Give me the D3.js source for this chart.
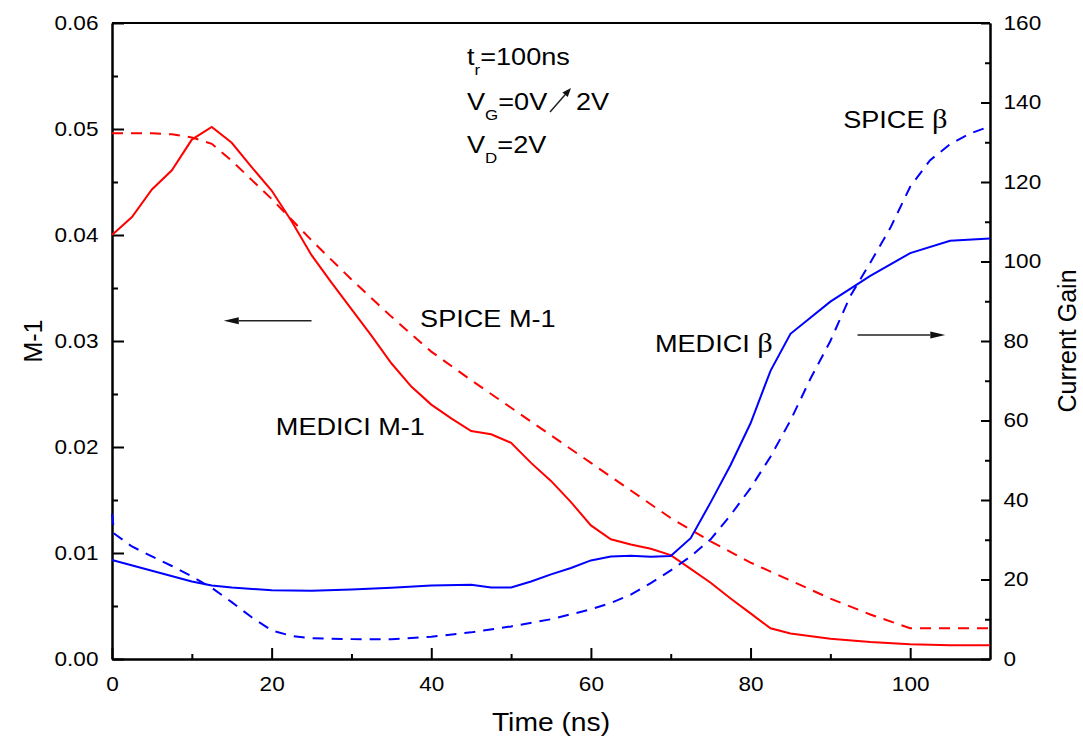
<!DOCTYPE html>
<html>
<head>
<meta charset="utf-8">
<script src="https://cdn.jsdelivr.net/npm/d3@7"></script>
<style>
  body { margin: 0; background: #fff; }
  text { font-family: "Liberation Sans", Arial, sans-serif; fill: #000; }
</style>
</head>
<body>
<svg width="1083" height="744"></svg>
<script>
// time axis (ns)
let xMajor = [0, 20, 40, 60, 80, 100];
let xMinor = [10, 30, 50, 70, 90];
let leftMajor = [0, 0.01, 0.02, 0.03, 0.04, 0.05, 0.06];
let leftMinor = [0.005, 0.015, 0.025, 0.035, 0.045, 0.055];
let rightMajor = [0, 20, 40, 60, 80, 100, 120, 140, 160];
let rightMinor = [10, 30, 50, 70, 90, 110, 130, 150];

// MEDICI M-1 (solid red, left axis)
let tMediciM = [0, 2.5, 5, 7.5, 10, 12.5, 15, 17.5, 20, 22.5, 25, 27.5, 30, 32.5, 35, 37.5, 40, 42.5, 45, 47.5,
  50, 52.5, 55, 57.5, 60, 62.5, 65, 67.5, 70, 72.5, 75, 77.5, 80, 82.5, 85, 90, 95, 100, 105, 110];
let mediciM = [0.0400, 0.0417, 0.0443, 0.0461, 0.0490, 0.0502, 0.0487, 0.0464, 0.0442, 0.0413, 0.0381, 0.0355,
  0.0330, 0.0305, 0.0279, 0.0257, 0.0240, 0.0227, 0.0215, 0.0212, 0.0204, 0.0185, 0.0168, 0.0148, 0.0126,
  0.0113, 0.0108, 0.0104, 0.0098, 0.0085, 0.0072, 0.0057, 0.0043, 0.0029, 0.0024, 0.0019, 0.0016, 0.0014,
  0.0013, 0.0013];

// SPICE M-1 (dashed red, left axis)
let tSpiceM = [0, 2.5, 5, 7.5, 10, 12.5, 15, 17.5, 20, 25, 30, 35, 40, 45, 50, 55, 60, 65, 70, 75, 80, 85, 90,
  95, 100, 105, 110];
let spiceM = [0.0496, 0.0496, 0.0496, 0.0495, 0.0492, 0.0486, 0.0470, 0.0452, 0.0434, 0.0395, 0.0358, 0.0323,
  0.0290, 0.0263, 0.0237, 0.0211, 0.0185, 0.0159, 0.0133, 0.0111, 0.0091, 0.0074, 0.0057, 0.0042, 0.0029,
  0.0029, 0.0029];

// MEDICI beta (solid blue, right axis)
let tMediciB = [0, 5, 10, 12.5, 15, 20, 25, 30, 35, 40, 45, 47.5, 50, 52.5, 55, 57.5, 60, 62.5, 65, 67.5, 70,
  72.5, 75, 77.5, 80, 82.5, 85, 90, 95, 100, 105, 110];
let mediciB = [24.9, 22.2, 19.5, 18.5, 18.0, 17.3, 17.2, 17.5, 17.9, 18.5, 18.7, 18.0, 18.0, 19.5, 21.3, 22.9,
  24.8, 25.8, 26.0, 25.7, 25.9, 30.4, 39.4, 48.8, 59.3, 72.5, 81.8, 89.9, 96.4, 102.1, 105.2, 105.8];

// SPICE beta (dashed blue, right axis)
let tSpiceB = [0, 0.3, 2.5, 5, 7.5, 10, 12.5, 15, 17.5, 20, 22.5, 25, 30, 35, 40, 45, 50, 55, 60, 62.5, 65,
  67.5, 70, 72.5, 75, 77.5, 80, 82.5, 85, 87.5, 90, 92.5, 95, 97.5, 100, 102.5, 105, 107.5, 110];
let spiceB = [36.5, 31.5, 28.3, 25.8, 23.4, 20.8, 17.9, 14.3, 10.5, 7.2, 5.8, 5.2, 5.0, 5.0, 5.6, 6.7, 8.2,
  10.0, 12.5, 14.1, 16.2, 19.1, 22.3, 25.8, 30.1, 36.2, 43.0, 50.9, 60.0, 70.5, 80.0, 91.3, 99.7, 108.4,
  118.8, 125.5, 129.5, 132.2, 134.0];

let svg = d3.select('svg');
let x = d3.scaleLinear().domain([0, 110]).range([112, 990]);
let yL = d3.scaleLinear().domain([0, 0.06]).range([659, 23]);
let yR = d3.scaleLinear().domain([0, 160]).range([659, 23]);
let stretch = 'scale(1.13,1)';

function styleAxis(g) {
  g.select('.domain').attr('stroke', '#000').attr('stroke-width', 2);
  g.selectAll('.tick line').attr('stroke', '#000').attr('stroke-width', 2);
  g.selectAll('.tick text').attr('font-size', 20).attr('font-family', '"Liberation Sans", Arial, sans-serif')
    .attr('transform', stretch);
}

// minor ticks first
svg.append('g').attr('transform', 'translate(0,659)')
  .call(d3.axisBottom(x).tickValues(xMinor).tickSize(-5).tickSizeOuter(0).tickFormat(() => ''))
  .call(styleAxis);
svg.append('g').attr('transform', 'translate(112,0)')
  .call(d3.axisLeft(yL).tickValues(leftMinor).tickSize(-6).tickSizeOuter(0).tickFormat(() => ''))
  .call(styleAxis);
svg.append('g').attr('transform', 'translate(990,0)')
  .call(d3.axisRight(yR).tickValues(rightMinor).tickSize(-5).tickSizeOuter(0).tickFormat(() => ''))
  .call(styleAxis);

svg.append('g').attr('transform', 'translate(0,659)')
  .call(d3.axisBottom(x).tickValues(xMajor).tickSize(-11).tickSizeOuter(0).tickPadding(18).tickFormat(d3.format('d')))
  .call(styleAxis);
svg.append('g').attr('transform', 'translate(112,0)')
  .call(d3.axisLeft(yL).tickValues(leftMajor).tickSize(-12).tickSizeOuter(0).tickPadding(12).tickFormat(d3.format('.2f')))
  .call(styleAxis);
svg.append('g').attr('transform', 'translate(990,0)')
  .call(d3.axisRight(yR).tickValues(rightMajor).tickSize(-9).tickSizeOuter(0).tickPadding(12).tickFormat(d3.format('d')))
  .call(styleAxis);

// top frame
svg.append('line').attr('x1', x(0)).attr('x2', x(110)).attr('y1', yL(0.06)).attr('y2', yL(0.06))
  .attr('stroke', '#000').attr('stroke-width', 2);

// curves
function drawLine(ts, vs, yScale, color, dashed) {
  let pts = ts.map((t, i) => [t, vs[i]]);
  let line = d3.line().x(d => x(d[0])).y(d => yScale(d[1]));
  svg.append('path').datum(pts).attr('d', line)
    .attr('fill', 'none').attr('stroke', color).attr('stroke-width', 2)
    .attr('stroke-dasharray', dashed ? '11,8' : null);
}
drawLine(tSpiceM, spiceM, yL, '#ff0000', true);
drawLine(tMediciM, mediciM, yL, '#ff0000', false);
drawLine(tSpiceB, spiceB, yR, '#0000ff', true);
drawLine(tMediciB, mediciB, yR, '#0000ff', false);

// text helper
function label(px, py, size, anchor) {
  return svg.append('text').attr('transform', `translate(${px},${py}) ${stretch}`)
    .attr('font-size', size).attr('text-anchor', anchor || 'start');
}

// condition block
let l1 = label(467, 65, 24);
l1.append('tspan').text('t');
l1.append('tspan').attr('font-size', 15).attr('dy', 10).text('r');
l1.append('tspan').attr('dy', -10).text('=100ns');
let l2 = label(467, 110, 24);
l2.append('tspan').text('V');
l2.append('tspan').attr('font-size', 15).attr('dy', 10).text('G');
l2.append('tspan').attr('dy', -10).text('=0V');
label(576, 110, 24).text('2V');
let l3 = label(467, 153, 24);
l3.append('tspan').text('V');
l3.append('tspan').attr('font-size', 15).attr('dy', 10).text('D');
l3.append('tspan').attr('dy', -10).text('=2V');

// arrows
function arrow(x1, y1, x2, y2, len, half, width) {
  let a = Math.atan2(y2 - y1, x2 - x1);
  let bx = x2 - len * Math.cos(a), by = y2 - len * Math.sin(a);
  svg.append('line').attr('x1', x1).attr('y1', y1).attr('x2', bx).attr('y2', by)
    .attr('stroke', '#222').attr('stroke-width', width);
  let px = -Math.sin(a) * half, py = Math.cos(a) * half;
  svg.append('path')
    .attr('d', `M${x2},${y2}L${bx + px},${by + py}L${bx - px},${by - py}Z`)
    .attr('fill', '#111');
}
arrow(550, 112, 571, 88, 9, 3.5, 1.5);
arrow(x(25), yL(0.0319), x(14), yL(0.0319), 15, 3.5, 1.5);
arrow(x(93.4), yR(81.5), x(104.4), yR(81.5), 15, 3.5, 1.5);

// curve labels
label(x(38.6), yL(0.0313), 24).text('SPICE M-1');
label(x(39.2), yL(0.0211), 24, 'end').text('MEDICI M-1');
let mb = label(x(82.8), yR(77.2), 24, 'end');
mb.append('tspan').text('MEDICI ');
mb.append('tspan').attr('font-family', '"Liberation Serif", serif').attr('font-size', 27).text('β');
let sb = label(x(91.6), yR(133.6), 24);
sb.append('tspan').text('SPICE ');
sb.append('tspan').attr('font-family', '"Liberation Serif", serif').attr('font-size', 27).text('β');

// axis titles
label(551, 731, 25, 'middle').text('Time (ns)');
svg.append('text').attr('transform', 'translate(42,341) rotate(-90)')
  .attr('font-size', 25).attr('text-anchor', 'middle').text('M-1');
svg.append('text').attr('transform', 'translate(1076,341) rotate(-90)')
  .attr('font-size', 25).attr('text-anchor', 'middle').text('Current Gain');
</script>
</body>
</html>
